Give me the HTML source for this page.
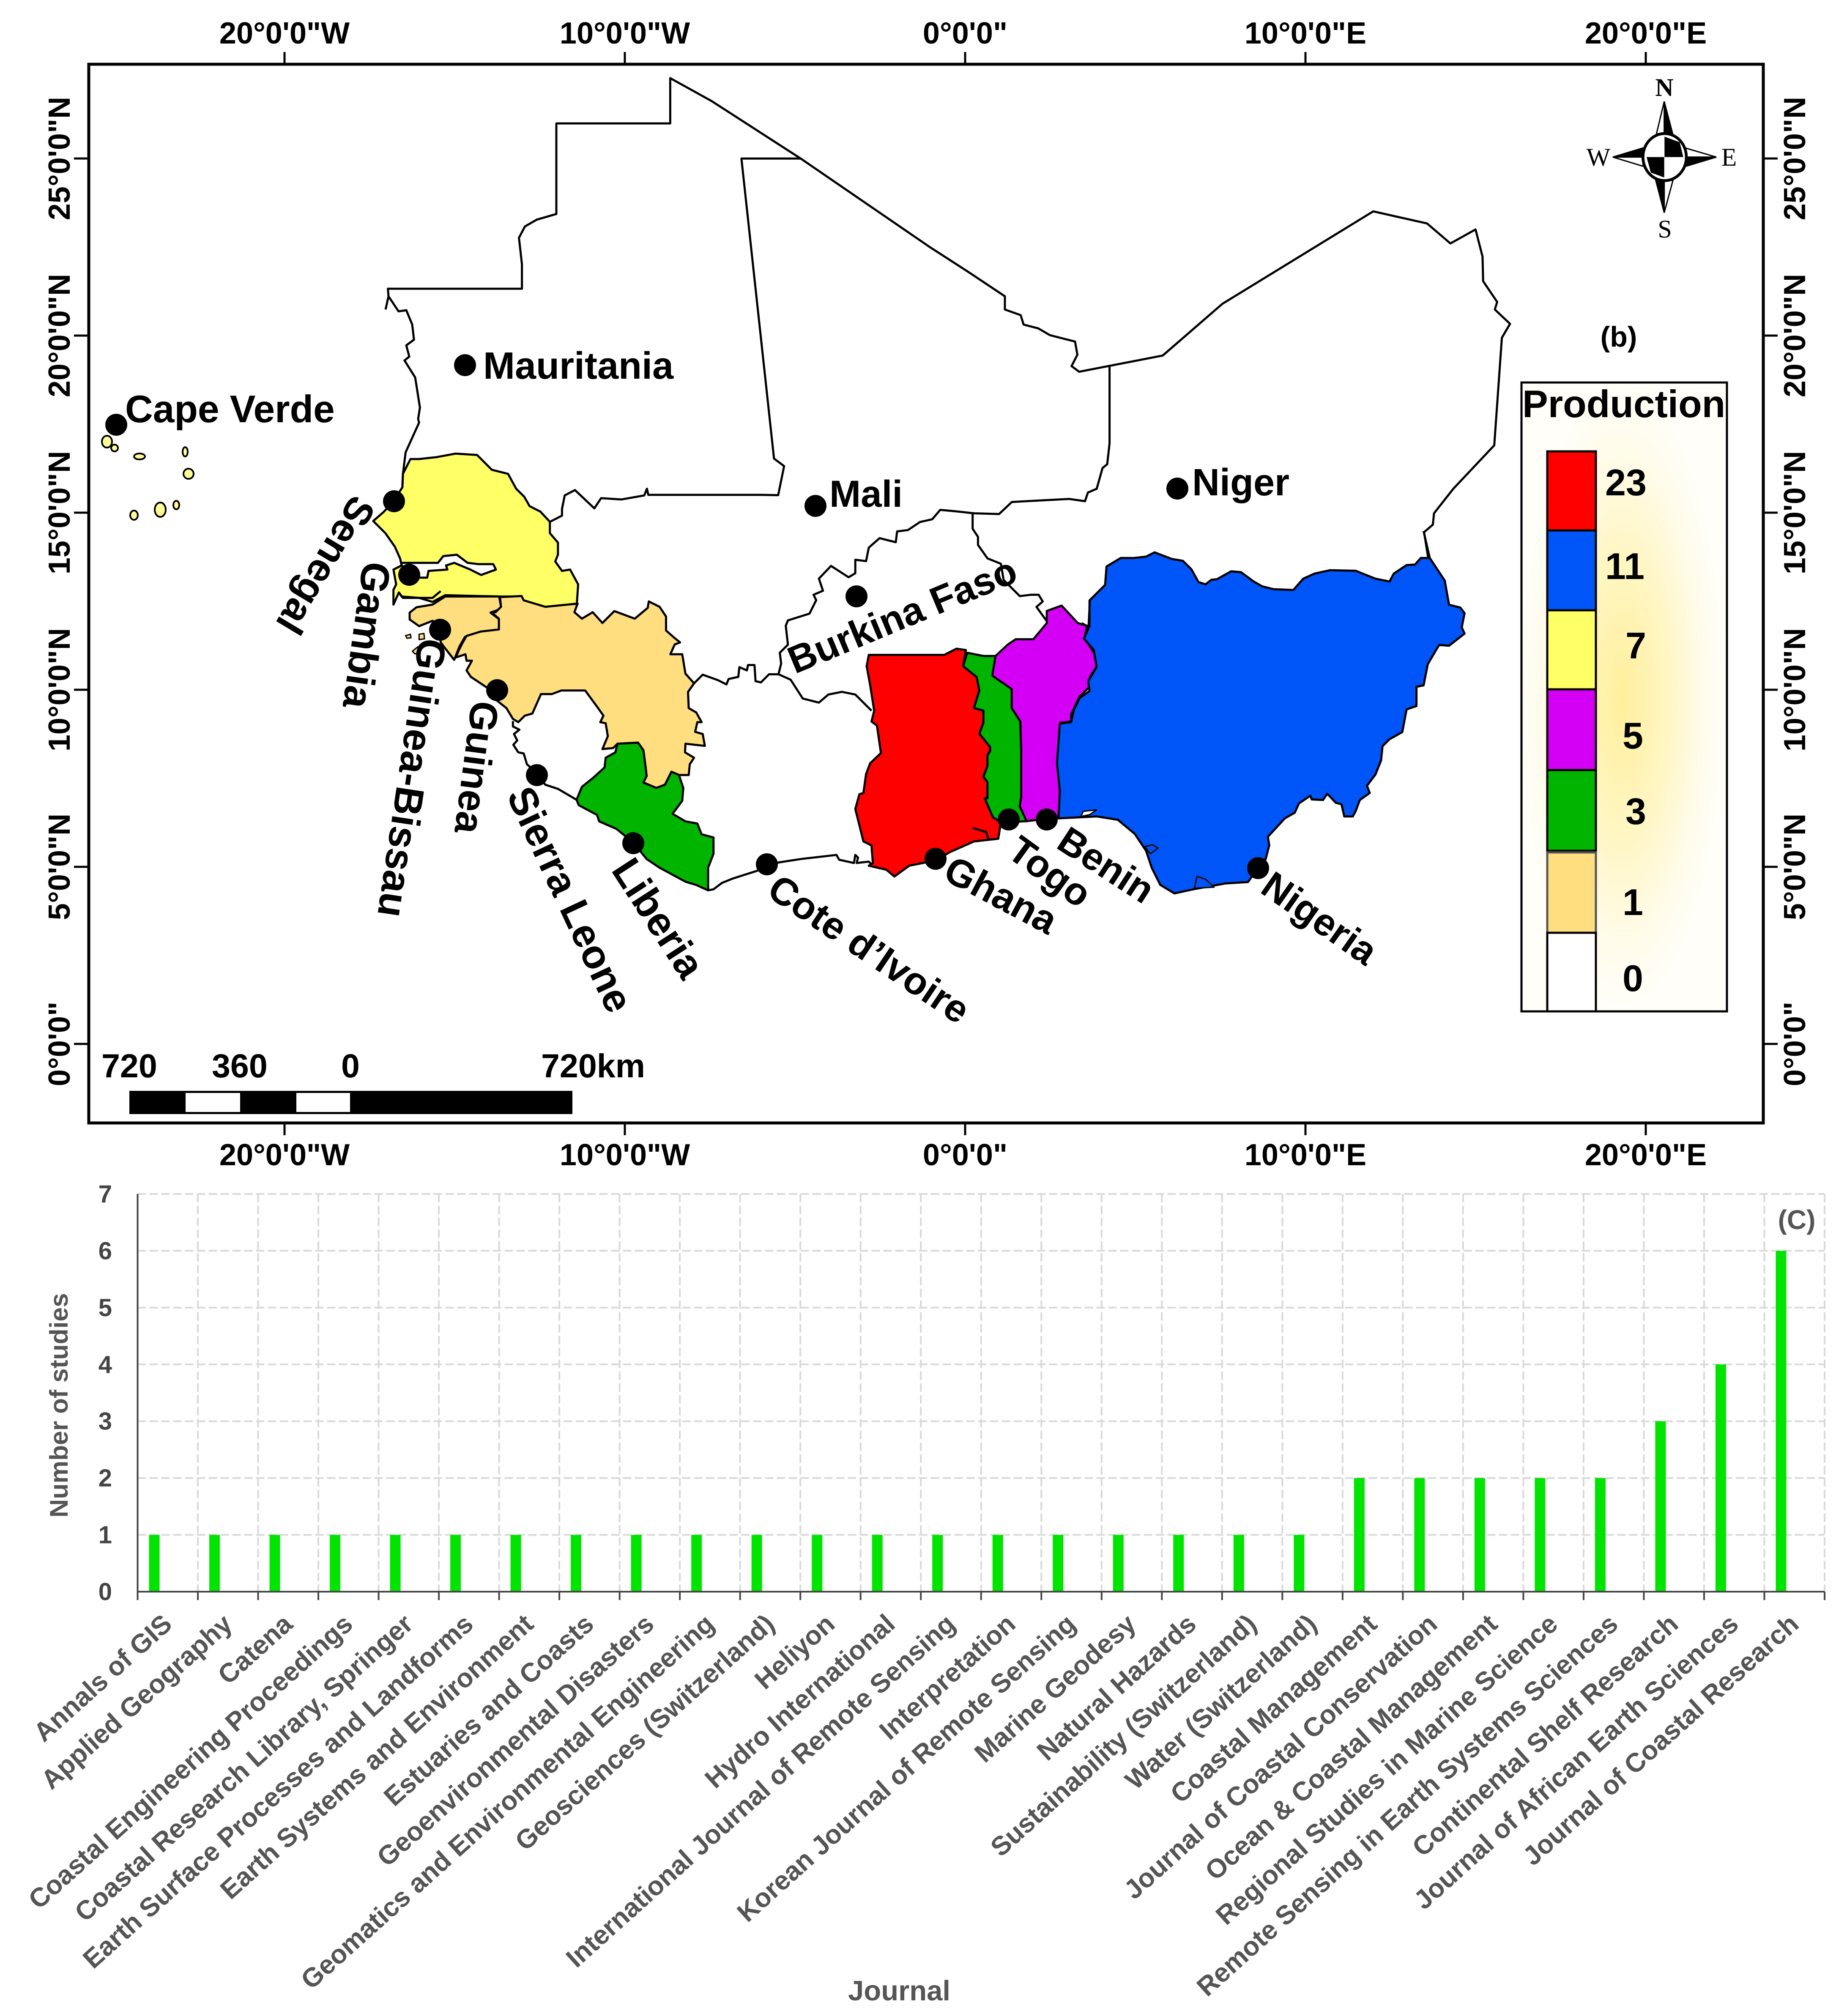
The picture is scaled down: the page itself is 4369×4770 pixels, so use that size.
<!DOCTYPE html>
<html lang="en">
<head>
<meta charset="utf-8">
<title>West Africa production map and journal bar chart</title>
<style>
html,body{margin:0;padding:0;background:#fff}
svg{display:block}
text{font-family:"Liberation Sans",Arial,sans-serif;font-weight:bold}
.lbl{font-size:91px;fill:#000;text-anchor:middle}
.serif{font-family:"Liberation Serif",serif;font-size:60px;fill:#000;text-anchor:middle}
.leg{font-size:88px;fill:#000}
.sc{font-size:79px;fill:#000}
</style>
</head>
<body>
<svg id="fig" xmlns="http://www.w3.org/2000/svg" width="4369" height="4770" viewBox="0 0 4369 4770">
<defs>
<radialGradient id="legendGlow" cx="0.49" cy="0.5" r="0.5">
<stop offset="0" stop-color="#FFEF9C"/>
<stop offset="0.45" stop-color="#FFF6C4"/>
<stop offset="0.8" stop-color="#FFFCEC"/>
<stop offset="1" stop-color="#FFFEF8"/>
</radialGradient>
</defs>
<rect width="4369" height="4770" fill="#fff"/>

<g id="mapLayer"></g>
<g id="gratLayer"></g>
<rect x="210" y="152" width="3961" height="2505" fill="none" stroke="#000" stroke-width="7"/>

<g>
<rect x="3599" y="905" width="486" height="1488" fill="url(#legendGlow)" stroke="#000" stroke-width="5"/>
<text x="3601" y="987" font-size="91" fill="#000">Production</text>
<rect x="3660" y="1068" width="115" height="187" fill="#FF0000" stroke="#000" stroke-width="5"/>
<rect x="3660" y="1255" width="115" height="189" fill="#0055F8" stroke="#000" stroke-width="5"/>
<rect x="3660" y="1444" width="115" height="187" fill="#FFFF66" stroke="#000" stroke-width="5"/>
<rect x="3660" y="1631" width="115" height="191" fill="#D400F5" stroke="#000" stroke-width="5"/>
<rect x="3660" y="1822" width="115" height="191" fill="#00B400" stroke="#000" stroke-width="5"/>
<rect x="3660" y="2017" width="115" height="190" fill="#FFDE80" stroke="#555" stroke-width="5"/>
<rect x="3660" y="2207" width="115" height="186" fill="#FFFFFF" stroke="#000" stroke-width="5"/>
<text class="leg" x="3797" y="1172">23</text>
<text class="leg" x="3797" y="1370">11</text>
<text class="leg" x="3845" y="1558">7</text>
<text class="leg" x="3838" y="1771">5</text>
<text class="leg" x="3845" y="1950">3</text>
<text class="leg" x="3838" y="2165">1</text>
<text class="leg" x="3838" y="2345">0</text>
</g>
<text x="3829" y="820" font-size="68" fill="#000" text-anchor="middle">(b)</text>

<g>
<g transform="translate(3720,160) scale(0.3333)" stroke="#000" stroke-width="9" stroke-linejoin="miter">
<polygon points="650,240 710,470 650,470" fill="#000"/>
<polygon points="650,240 595,470 650,470" fill="#fff"/>
<polygon points="650,1030 590,800 650,800" fill="#000"/>
<polygon points="650,1030 712,800 650,800" fill="#fff"/>
<polygon points="285,635 500,570 500,635" fill="#000"/>
<polygon points="285,635 500,700 500,635" fill="#fff"/>
<polygon points="1020,635 805,700 805,635" fill="#000"/>
<polygon points="1020,635 805,572 805,635" fill="#fff"/>
<ellipse cx="653" cy="635" rx="154" ry="167" fill="#fff" stroke-width="20"/>
<polygon points="652,490 760,530 785,635 652,635" fill="#000" stroke="none"/>
<polygon points="525,635 650,635 650,780 555,745" fill="#000" stroke="none"/>
</g>
<text class="serif" x="3937" y="227" font-weight="bold">N</text>
<text class="serif" x="3938" y="562" style="font-weight:normal">S</text>
<text class="serif" x="3781" y="392" style="font-weight:normal">W</text>
<text class="serif" x="4090" y="392" style="font-weight:normal">E</text>
</g>

<g>
<rect x="306" y="2581" width="1048" height="55" fill="#000"/>
<rect x="439" y="2586" width="129" height="45" fill="#fff"/>
<rect x="701" y="2586" width="127" height="45" fill="#fff"/>
<text class="sc" x="240" y="2549">720</text>
<text class="sc" x="501" y="2549">360</text>
<text class="sc" x="807" y="2549">0</text>
<text class="sc" x="1280" y="2549">720km</text>
</g>

<g id="dotLayer"></g>

<g>
<text x="296" y="999" font-size="91" fill="#000">Cape Verde</text>
<text x="1143" y="896" font-size="90" fill="#000">Mauritania</text>
<text x="1962" y="1199" font-size="89" fill="#000">Mali</text>
<text x="2820" y="1172" font-size="90" fill="#000">Niger</text>
<text class="lbl" dy=".35em" transform="translate(2134,1455) rotate(-22.6)" style="font-size:91px">Burkina Faso</text>
<text class="lbl" dy=".35em" transform="translate(771,1338) rotate(121)" style="font-size:94px">Senegal</text>
<text class="lbl" dy=".35em" transform="translate(868,1503) rotate(98)" style="font-size:95px">Gambia</text>
<text class="lbl" dy=".35em" transform="translate(975,1841) rotate(98.5)" style="font-size:95px">Guinea-Bissau</text>
<text class="lbl" dy=".35em" transform="translate(1128,1816) rotate(97.5)" style="font-size:93px">Guinea</text>
<text class="lbl" dy=".35em" transform="translate(1349,2128) rotate(65)" style="font-size:95px">Sierra Leone</text>
<text class="lbl" dy=".35em" transform="translate(1558,2172) rotate(57)" style="font-size:96px">Liberia</text>
<text class="lbl" dy=".35em" transform="translate(2056,2245) rotate(34)" style="font-size:91px">Cote d’Ivoire</text>
<text class="lbl" dy=".35em" transform="translate(2368,2117) rotate(28)" style="font-size:92px">Ghana</text>
<text class="lbl" dy=".35em" transform="translate(2484,2062) rotate(36)" style="font-size:91px">Togo</text>
<text class="lbl" dy=".35em" transform="translate(2617,2046) rotate(33)" style="font-size:90px">Benin</text>
<text class="lbl" dy=".35em" transform="translate(3122,2172) rotate(35)" style="font-size:91px">Nigeria</text>
</g>

<g id="chartLayer"></g>
<text x="4250" y="2908" font-size="64" fill="#555" text-anchor="middle">(C)</text>
<text x="2127" y="4733" font-size="67" fill="#555" text-anchor="middle">Journal</text>
<text transform="translate(160,3325) rotate(-90)" font-size="60.5" fill="#555" text-anchor="middle">Number of studies</text>
</svg>

<script>
/* ---------- bar chart data ---------- */
const journals = ["Annals of GIS","Applied Geography","Catena","Coastal Engineering Proceedings","Coastal Research Library, Springer","Earth Surface Processes and Landforms","Earth Systems and Environment","Estuaries and Coasts","Geoenvironmental Disasters","Geomatics and Environmental Engineering","Geosciences (Switzerland)","Heliyon","Hydro International","International Journal of Remote Sensing","Interpretation","Korean Journal of Remote Sensing","Marine Geodesy","Natural Hazards","Sustainability (Switzerland)","Water (Switzerland)","Coastal Management","Journal of Coastal Conservation","Ocean & Coastal Management","Regional Studies in Marine Science","Remote Sensing in Earth Systems Sciences","Continental Shelf Research","Journal of African Earth Sciences","Journal of Coastal Research"];
const studyCounts = [1,1,1,1,1,1,1,1,1,1,1,1,1,1,1,1,1,1,1,1,2,2,2,2,2,3,4,6];
const yTickLabels = [0,1,2,3,4,5,6,7];

/* ---------- map graticule labels ---------- */
const lonLabels = ['20°0\'0"W','10°0\'0"W','0°0\'0"','10°0\'0"E','20°0\'0"E'];
const lonDegrees = [-20,-10,0,10,20];
const latLabels = ['25°0\'0"N','20°0\'0"N','15°0\'0"N','10°0\'0"N','5°0\'0"N','0°0\'0"'];
const latDegrees = [25,20,15,10,5,0];

/* ---------- map outlines, traced in crop coordinates ---------- */
const cropFrames = {
  a:[0,0,1.403,.893], b:[2200,0,1.383,.893],
  g:[800,1000,.6378,.6378], h:[1050,1400,.5102,.5102],
  i:[1800,1200,.6378,.6378], j:[2450,1250,.6696,.6696]
};
const countryFills = [
 ["senegal","#FFFF66","g 268,135 300,135 365,128 435,115 515,120 570,175 630,190 660,245 690,275 710,310 750,330 785,368 785,410 815,445 815,490 805,515 830,550 860,545 890,600 885,672 770,685 680,660 675,645 600,645 397,640 350,665 300,650 235,645 225,630 205,675 205,620 215,600 205,545 235,530 230,505 210,460 175,410 130,365 170,330 205,290 238,240 240,190"],
 ["gambia","#FFFFFF","g 235,520 370,520 390,495 440,490 480,520 520,525 575,525 585,545 530,565 490,545 430,520 400,530 405,545 335,550 330,575 300,575 235,530"],
 ["guinea-bissau","#FFDE80","g 597,645 605,690 565,705 598,730 598,770 530,775 470,795 450,830 430,880 395,835 380,815 378,765 350,735 300,755 265,730 265,705 290,685 350,675 397,645"],
 ["guinea","#FFDE80","h 260,25 265,70 240,95 220,95 255,125 255,175 170,185 105,205 85,240 70,270 55,305 100,290 105,320 130,320 105,365 125,395 200,445 240,500 290,540 320,590 345,605 375,575 410,565 450,475 500,475 545,458 655,458 715,540 740,575 725,605 750,610 760,670 735,730 785,725 805,705 900,700 925,735 935,810 940,855 925,885 985,910 1025,895 1055,835 1090,850 1135,850 1140,800 1160,770 1118,745 1120,705 1210,715 1200,660 1165,650 1175,605 1195,605 1170,560 1135,540 1132,465 1160,425 1120,380 1105,290 1050,290 1070,245 1095,235 1070,215 1030,180 1030,115 1000,70 950,45 945,75 885,125 790,90 735,145 690,95 640,125 605,95 620,55 470,70 370,40 360,20"],
 ["liberia","#00B400","h 615,965 640,905 690,865 745,815 750,770 795,745 805,705 900,700 925,735 935,810 940,855 925,885 985,910 1025,895 1055,835 1090,850 1110,910 1105,970 1060,1030 1120,1065 1175,1075 1195,1125 1250,1140 1250,1215 1225,1280 1225,1385 1170,1360 1120,1345 1000,1280 940,1240 880,1165 800,1100 720,1065 710,1035 625,990"],
 ["ghana","#FF0000","i 400,548 680,548 725,525 760,530 750,590 800,630 810,680 790,745 825,755 825,800 810,840 850,890 850,905 840,920 840,960 825,1000 840,1020 840,1080 830,1080 860,1150 890,1170 880,1230 790,1240 700,1280 650,1310 550,1330 495,1370 465,1345 400,1330 415,1320 410,1255 380,1240 350,1120 365,1065 380,1060 390,990 405,950 445,912 430,810 410,795 420,755 405,660 392,590"],
 ["togo","#00B400","i 765,540 825,552 870,552 858,625 930,675 930,745 962,795 965,900 965,1075 960,1110 985,1165 890,1170 860,1150 830,1080 840,1080 840,1020 825,1000 840,960 840,920 850,905 850,890 810,840 825,800 825,755 790,745 810,680 800,630 750,590"],
 ["benin","#D400F5","i 870,552 915,510 945,490 1010,490 1060,430 1060,385 1115,365 1175,430 1210,440 1200,485 1235,540 1245,590 1220,630 1225,660 1180,705 1150,770 1150,795 1110,800 1105,950 1110,1060 1105,1150 985,1165 960,1110 965,1075 965,900 962,795 930,745 930,675 858,625"],
 ["nigeria","#0055F8","j 250,135 300,105 345,105 390,100 420,85 480,108 520,115 550,145 575,190 600,198 620,182 640,180 690,152 725,155 770,188 800,205 840,215 910,218 945,178 985,160 1040,148 1130,150 1200,178 1250,188 1265,160 1310,130 1340,128 1360,105 1392,105 1445,185 1460,270 1500,280 1515,300 1505,350 1515,372 1460,415 1425,412 1385,480 1370,555 1345,560 1345,628 1310,640 1295,720 1250,745 1225,770 1220,820 1200,870 1170,910 1180,935 1145,960 1130,1000 1120,1018 1090,1018 1080,975 1060,970 1030,938 1015,960 975,958 970,945 930,972 915,1005 880,1025 820,1090 825,1120 812,1170 785,1200 750,1250 670,1255 560,1275 490,1290 440,1260 410,1200 390,1140 350,1080 290,1030 215,1018 80,1025 85,930 75,830 85,690 125,685 135,640 155,600 190,575 185,540 215,490 205,430 170,390 190,345 190,255 245,200"],
 ["nigeria-inlet-west","#FFFFFF","j 160,1018 168,1000 215,995 190,1012"],
 ["nigeria-inlet-delta","#0055F8","j 385,1125 412,1118 432,1130 405,1150"],
 ["nigeria-inlet-south","#0055F8","j 560,1272 570,1230 600,1240 630,1268"],
 ["gb-island-1","#FFDE80","g 250,790 268,785 270,798 255,800"],
 ["gb-island-2","#FFDE80","g 300,785 318,782 320,802 300,805"],
 ["gb-island-3","#FFDE80","g 275,848 295,832 300,855 285,858"]
];
const borderLines = [
 ["mauritania-north-and-mali-east","a 650,820 655,785 654,765 880,765 880,700 875,630 885,600 905,582 938,567 938,327 1130,327 1130,207 1200,268 1350,420 1568,655 b 65,720 128,785 128,820 155,835 160,860 185,870 205,888 248,905 252,940 242,970 255,985 398,942 500,805 758,560 850,592 890,645 933,608 945,680 946,745 970,800 966,820 992,858 978,895 965,1180 895,1295 862,1360 860,1390 845,1410 852,1478"],
 ["mauritania-coast","a 655,785 672,825 685,822 695,860 698,900 685,915 690,945 682,955 700,1000 708,1080 705,1110 g 300,0 250,110 240,190 238,240"],
 ["mauritania-mali-border","a 1350,420 1250,420 1305,1215 1322,1235 1312,1312 g 1568,268 1150,268 1145,245 1135,270 1050,285 975,280 950,318 878,250 840,270 830,320 830,345 785,368"],
 ["mali-niger-burkina-border","b 307,972 307,1175 303,1230 295,1240 285,1295 270,1305 265,1328 238,1322 140,1330 118,1362 75,1360 i 720,15 665,10 635,45 590,55 545,85 505,90 500,130 440,115 400,150 390,200 350,195 350,245 325,260 260,218 215,265 230,310 195,325 205,345 180,395 100,420 92,440 100,510 70,540 75,580 65,620"],
 ["mali-cote-divoire-border","h 1160,425 1200,385 1270,410 1310,430 1320,405 1365,395 1370,350 1405,365 1410,340 1440,340 1445,415 i 0,650 30,620 65,620"],
 ["burkina-south-border","i 65,620 110,640 155,710 215,725 250,695 300,685 350,695 410,755"],
 ["burkina-east-border","i 785,25 785,80 805,110 805,140 840,190 890,210 900,270 960,330 1000,325 1030,325 1045,350 1022,370 1058,420"],
 ["niger-benin-border","i 1190,430 1215,445 1220,345"],
 ["niger-nigeria-junction","j 1370,10 1392,105"],
 ["sierra-leone-coast","h 320,600 320,625 350,640 325,660 340,690 322,710 345,745 370,750 385,800 430,840 470,895 530,915 615,965"],
 ["cote-divoire-coast","h 1225,1385 1250,1380 1290,1350 1340,1330 1450,1295 i 65,1318 150,1305 280,1290 290,1308 345,1320 350,1290 360,1300 355,1320 400,1315 410,1325"],
 ["senegal-casamance-line","g 225,630 240,650 300,650 350,650 380,625"],
 ["ghana-volta-line","i 785,1190 835,1205 845,1235"]
];
/* island centre and radii are fixed map geometry */
const capeVerdeIslands = [[253,1045,12,14],[271,1060,8,8],[330,1080,13,7],[438,1069,6,11],[446,1121,12,12],[317,1219,9,11],[379,1206,13,17],[417,1195,7,10]];
const countryMarkers = [["cape-verde",275,1005],["mauritania",1100,864],["senegal",932,1186],["gambia",968,1360],["guinea-bissau",1041,1490],["guinea",1176,1633],["sierra-leone",1270,1834],["liberia",1498,1995],["cote-divoire",1814,2045],["ghana",2213,2032],["togo",2386,1939],["benin",2476,1939],["nigeria",2976,2054],["mali",1929,1197],["burkina-faso",2026,1411],["niger",2785,1156]];

const NS = "http://www.w3.org/2000/svg";
function make(tag, parent, props){
  const el = document.createElementNS(NS, tag);
  for (const k in props) el.setAttribute(k, props[k]);
  parent.appendChild(el);
  return el;
}
function toPath(s, close){
  let f = null; const pts = [];
  s.trim().split(/\s+/).forEach(function(t){
    if (cropFrames[t]) { f = cropFrames[t]; return; }
    const p = t.split(",").map(Number);
    pts.push((f[0]+p[0]*f[2]).toFixed(1)+","+(f[1]+p[1]*f[3]).toFixed(1));
  });
  return "M"+pts.join("L")+(close?"Z":"");
}

/* map */
const mapLayer = document.getElementById("mapLayer");
countryFills.forEach(function(c){
  const el = make("path", mapLayer, {d:toPath(c[2],true), fill:c[1], stroke:"#000", "stroke-width":(c[0].indexOf("-i")>0?3:5), "stroke-linejoin":"round"});
  
  
});
borderLines.forEach(function(c){
  const el = make("path", mapLayer, {d:toPath(c[1],false), fill:"none", stroke:"#000", "stroke-width":5, "stroke-linejoin":"round"});
  
  
});
capeVerdeIslands.forEach(function(c){
  const el = make("ellipse", mapLayer, {cx:c[0], cy:c[1], rx:c[2], ry:c[3], fill:"#FFFF99", stroke:"#000", "stroke-width":4});
  
  
});
const dotLayer = document.getElementById("dotLayer");
countryMarkers.forEach(function(c){
  const el = make("circle", dotLayer, {cx:c[1], cy:c[2], r:26, fill:"#000"});
  
  
});

/* graticule */
const gratLayer = document.getElementById("gratLayer");
const lonX = function(d){ return 2283 + d*80.5; };
const latY = function(d){ return 2470 - d*83.8; };
const tickStyle = {stroke:"#000", "stroke-width":5};
lonDegrees.forEach(function(d,i){
  const x = lonX(d);
  [[123,152,103],[2657,2686,2757]].forEach(function(v,j){
    const t = make("line", gratLayer, Object.assign({x1:x,x2:x,y1:v[0],y2:v[1]}, tickStyle));
    
    
    const l = make("text", gratLayer, {x:x, y:v[2], "font-size":72, fill:"#000", "text-anchor":"middle"});
    l.textContent = lonLabels[i];
    
    
  });
});
latDegrees.forEach(function(d,i){
  const y = latY(d);
  [[175,210,165],[4171,4205,4270]].forEach(function(v){
    const t = make("line", gratLayer, Object.assign({x1:v[0],x2:v[1],y1:y,y2:y}, tickStyle));
    
    
    const l = make("text", gratLayer, {transform:"translate("+v[2]+","+y+") rotate(-90)", "font-size":72, fill:"#000", "text-anchor":"middle"});
    l.textContent = latLabels[i];
    
    
  });
});

/* bar chart */
const chart = document.getElementById("chartLayer");
const plotLeft = 325.5, plotRight = 4316, plotBase = 3766, plotTop = 2825;
const yMax = yTickLabels[yTickLabels.length-1];
const xBand = function(i){ return plotLeft + i*(plotRight-plotLeft)/journals.length; };
const yPos = function(v){ return plotBase - v*(plotBase-plotTop)/yMax; };
const gridStyle = {stroke:"#D9D9D9", "stroke-width":4, "stroke-dasharray":"20 8"};
yTickLabels.forEach(function(v){
  if (v > 0) {
    const g = make("line", chart, Object.assign({x1:plotLeft,x2:plotRight,y1:yPos(v),y2:yPos(v)}, gridStyle));
    
    
  }
  const l = make("text", chart, {x:265, y:yPos(v)+20, "font-size":58, fill:"#444", "text-anchor":"end"});
  l.textContent = v;
  
  
});
for (let i = 1; i <= journals.length; i++) {
  const g = make("line", chart, Object.assign({x1:xBand(i),x2:xBand(i),y1:plotTop,y2:plotBase}, gridStyle));
  
  
}
studyCounts.forEach(function(v,i){
  const b = make("rect", chart, {x:xBand(i)+27, y:yPos(v), width:25, height:plotBase-yPos(v), fill:"#00E400"});
  
  
});
const yAxis = make("line", chart, {x1:plotLeft,x2:plotLeft,y1:plotTop,y2:plotBase,stroke:"#444","stroke-width":4});


const xAxis = make("line", chart, {x1:plotLeft,x2:plotRight,y1:plotBase,y2:plotBase,stroke:"#444","stroke-width":4});


for (let i = 0; i <= journals.length; i++) {
  const t = make("line", chart, {x1:xBand(i),x2:xBand(i),y1:plotBase,y2:plotBase+20,stroke:"#444","stroke-width":4});
  
  
}
journals.forEach(function(name,i){
  const cx = (xBand(i)+xBand(i+1))/2 + 14;
  const l = make("text", chart, {transform:"translate("+cx+",3848) rotate(-42)", "font-size":63, fill:"#555", "text-anchor":"end"});
  l.textContent = name;
  
  
});
</script>
</body>
</html>
